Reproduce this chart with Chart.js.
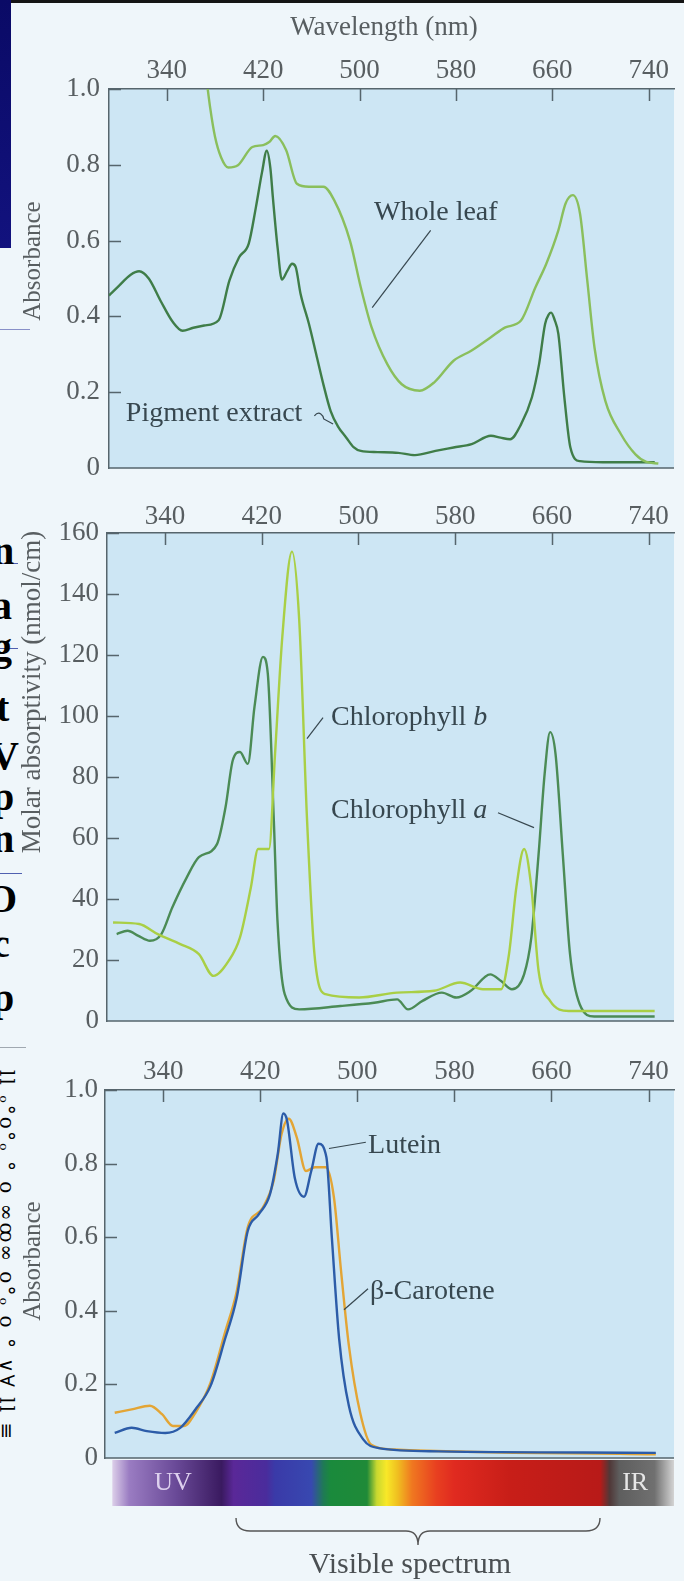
<!DOCTYPE html>
<html><head><meta charset="utf-8">
<script src="https://cdn.jsdelivr.net/npm/chart.js@4.4.1/dist/chart.umd.min.js"></script>
<style>
html,body{margin:0;padding:0;width:684px;height:1581px;overflow:hidden;background:#eff6fa;position:relative;font-family:"Liberation Serif",serif}
canvas{position:absolute;left:0}
#c1{top:0}#c2{top:490px}#c3{top:1035px}
.bl{position:absolute;font:bold 40px "Liberation Serif",serif;color:#000;line-height:40px}
.hl{position:absolute;left:0;height:1px}
</style></head>
<body>
<div style="position:absolute;left:0;top:0;width:684px;height:3px;background:#141414"></div>
<div style="position:absolute;left:0;top:0;width:11px;height:248px;background:linear-gradient(180deg,#0a0a66,#12127e)"></div>
<div class="hl" style="top:329px;width:30px;background:#8890c8"></div>
<div class="hl" style="top:563px;width:18px;background:#5060b0"></div>
<div class="hl" style="top:648px;width:18px;background:#5060b0"></div>
<div class="hl" style="top:873px;width:22px;background:#5060b0"></div>
<div class="hl" style="top:1047px;width:26px;background:#a0a8b0"></div>
<div style="position:absolute;left:0;top:0;width:19px;height:1581px;overflow:hidden">
  <span class="bl" style="left:-8px;top:531px">n</span>
  <span class="bl" style="left:-8px;top:586px">a</span>
  <span class="bl" style="left:-8px;top:627px">g</span>
  <span class="bl" style="left:-4px;top:688px">t</span>
  <span class="bl" style="left:-10px;top:736px">V</span>
  <span class="bl" style="left:-8px;top:777px">p</span>
  <span class="bl" style="left:-8px;top:819px">n</span>
  <span class="bl" style="left:-14px;top:879px">O</span>
  <span class="bl" style="left:-8px;top:924px">c</span>
  <span class="bl" style="left:-8px;top:978px">p</span>
  <div style="position:absolute;left:19px;top:1070px;transform-origin:0 0;transform:rotate(90deg);font:20px 'DejaVu Serif',serif;color:#000;white-space:nowrap;letter-spacing:2px">ll ₒ°o°ₒ ° o ∞ꝏ∞ o°ₒ o ° ∨∀ ll ≡</div>
</div>
<canvas id="c1" width="684" height="490" style="width:684px;height:490px"></canvas>
<canvas id="c2" width="684" height="545" style="width:684px;height:545px"></canvas>
<canvas id="c3" width="684" height="546" style="width:684px;height:546px"></canvas>
<script>
// ---------------- data ----------------
const xTicks = [340, 420, 500, 580, 660, 740];
const xTickLabels = ['340', '420', '500', '580', '660', '740'];
const absTicks = [0, 0.2, 0.4, 0.6, 0.8, 1.0];
const absTickLabels = ['0', '0.2', '0.4', '0.6', '0.8', '1.0'];
const molarTicks = [0, 20, 40, 60, 80, 100, 120, 140, 160];
const molarTickLabels = ['0', '20', '40', '60', '80', '100', '120', '140', '160'];

// Panel 1: whole leaf vs pigment extract
const leafNm  = [372, 376, 380, 385, 391, 399, 411, 420, 425, 430, 439, 448, 458, 470, 479, 492, 501, 510, 523, 535, 550, 562, 578, 593, 609, 621, 634, 646, 655, 665, 671, 677, 683, 689, 695, 704, 717, 729, 738, 748];
const leafAbs = [1.05, 0.95, 0.874, 0.82, 0.793, 0.799, 0.847, 0.852, 0.86, 0.876, 0.839, 0.75, 0.742, 0.742, 0.706, 0.60, 0.477, 0.371, 0.274, 0.221, 0.204, 0.226, 0.283, 0.31, 0.345, 0.371, 0.389, 0.477, 0.539, 0.627, 0.698, 0.72, 0.671, 0.495, 0.318, 0.177, 0.089, 0.036, 0.016, 0.012];
const pigNm  = [292, 300, 310, 317, 325, 335, 345, 353, 362, 371, 383, 392, 400, 408, 414, 419, 423, 426, 428, 432, 435.5, 440, 444, 447, 451, 458, 464, 470, 476, 482, 489, 495, 501, 515, 532, 546, 563, 578, 593, 609, 617, 625, 634, 643, 649, 654, 657, 659, 662, 665, 670, 675, 683, 702, 736, 745];
const pigAbs = [0.455, 0.48, 0.51, 0.519, 0.50, 0.44, 0.385, 0.362, 0.37, 0.376, 0.39, 0.495, 0.556, 0.592, 0.689, 0.78, 0.837, 0.79, 0.715, 0.58, 0.497, 0.52, 0.539, 0.53, 0.46, 0.38, 0.30, 0.22, 0.15, 0.11, 0.08, 0.055, 0.045, 0.042, 0.04, 0.034, 0.045, 0.054, 0.063, 0.085, 0.08, 0.076, 0.115, 0.186, 0.274, 0.38, 0.405, 0.41, 0.39, 0.354, 0.186, 0.054, 0.018, 0.015, 0.015, 0.015];

// Panel 2: chlorophyll a and b (molar absorptivity)
const chlANm  = [300, 309, 318, 327.5, 337, 346, 358, 368, 383, 390, 396, 402, 408.5, 414, 421, 425, 430, 433, 439, 451, 485, 513, 532, 541, 553, 569, 581, 593, 609, 618, 627, 637, 643, 649, 654, 658.5, 663, 669, 675, 683, 695, 745];
const chlAVal = [28.5, 29.6, 27.9, 26.3, 28.5, 37.2, 47.1, 53.7, 58, 70, 85.4, 88.2, 84.3, 103, 119.4, 113.9, 65.7, 32.9, 8.8, 3.8, 4.9, 6, 7.1, 3.8, 6.6, 9.3, 7.7, 9.9, 15.3, 13.1, 10.4, 15.3, 27.4, 54.7, 81, 94.7, 87.6, 54.7, 21.9, 5.5, 1.5, 1.5];
const chlBNm  = [297, 318.6, 334, 352.6, 368, 380, 392.6, 402, 411, 417, 426, 431, 437, 445, 451, 457.5, 463.6, 472.7, 500.6, 532, 562.6, 584, 603, 618, 624.5, 630.6, 637, 643, 649, 658.5, 674, 745];
const chlBVal = [32.3, 31.8, 28.5, 25.2, 21.9, 14.8, 19.7, 27.4, 43.8, 56.4, 56.4, 87.6, 125.9, 153.9, 131.4, 65.7, 21.9, 8.8, 7.7, 9.3, 9.9, 12.6, 10.4, 10.4, 21.9, 43.8, 56.4, 43.8, 16.4, 6.6, 3.3, 3.3];

// Panel 3: lutein and beta-carotene
const lutNm  = [300, 314, 326.5, 341.7, 354, 366.5, 379, 391, 400.5, 409.6, 418.7, 428, 434.4, 439, 442, 448.5, 456, 462, 468, 474.5, 479, 485, 493, 505, 517.7, 567, 746];
const lutAbs = [0.068, 0.082, 0.073, 0.068, 0.082, 0.132, 0.196, 0.324, 0.434, 0.616, 0.662, 0.717, 0.826, 0.936, 0.918, 0.76, 0.71, 0.78, 0.854, 0.817, 0.598, 0.324, 0.142, 0.05, 0.027, 0.018, 0.014];
const carNm  = [300, 314, 329, 339, 348, 357, 366.5, 379, 391, 400.5, 409.6, 422, 431, 437.6, 443.5, 450, 457.6, 465, 474, 480.7, 486.6, 493, 502.3, 511.5, 530, 746];
const carAbs = [0.123, 0.132, 0.142, 0.119, 0.087, 0.087, 0.123, 0.205, 0.342, 0.452, 0.626, 0.68, 0.753, 0.881, 0.922, 0.872, 0.78, 0.79, 0.79, 0.708, 0.507, 0.306, 0.123, 0.036, 0.023, 0.01];

// Spectrum bar colour stops (wavelength -> colour)
const specNm    = [298, 312, 350, 388, 398, 425, 432, 462, 472, 478, 508, 516, 524, 533, 545, 565, 580, 625, 700, 708, 716, 745, 761];
const specColor = ['#dccfe9', '#9a7cc2', '#6a4a98', '#3a1a60', '#5a2898', '#4a2c9c', '#3a3aa8', '#3848b0', '#1f7a55', '#1a8a3c', '#1f8a38', '#c8d830', '#f8e828', '#f0c020', '#f07820', '#e84020', '#e02a20', '#c81e18', '#b81a18', '#503838', '#5e5e5e', '#707070', '#d4d4d4'];

// ---------------- styling ----------------
const FONT = "'Liberation Serif', 'DejaVu Serif', serif";
const AXIS = '#56656c';
const TXT = '#585e61';
const LABEL = '#37474f';
const PLOT_BG = '#cde6f4';
const TICK_FONT = 27;
const ANN_FONT = 28;
Chart.defaults.font.family = FONT;
Chart.defaults.color = TXT;

const pts = (xs, ys) => xs.map((x, i) => ({x: x, y: ys[i]}));
const line = (label, xs, ys, color) => ({label, data: pts(xs, ys), borderColor: color, borderWidth: 2.4, pointRadius: 0, fill: false, cubicInterpolationMode: 'monotone'});

function labelText(ctx, parts, x, y) {
  let cx = x;
  parts.forEach(p => {
    ctx.font = (p.italic ? 'italic ' : '') + ANN_FONT + 'px ' + FONT;
    ctx.fillText(p.t, cx, y);
    cx += ctx.measureText(p.t).width;
  });
}
function drawAnnotations(chart, list) {
  const {ctx, scales: {x, y}} = chart;
  ctx.save();
  ctx.fillStyle = LABEL; ctx.strokeStyle = LABEL; ctx.lineWidth = 1.2;
  ctx.textBaseline = 'middle'; ctx.textAlign = 'left';
  list.forEach(a => {
    labelText(ctx, a.parts, x.getPixelForValue(a.nm), y.getPixelForValue(a.v));
    if (a.leader) {
      ctx.beginPath();
      ctx.moveTo(x.getPixelForValue(a.leader[0][0]), y.getPixelForValue(a.leader[0][1]));
      ctx.lineTo(x.getPixelForValue(a.leader[1][0]), y.getPixelForValue(a.leader[1][1]));
      ctx.stroke();
    }
    if (a.tilde) {
      const x0 = x.getPixelForValue(a.tilde[0][0]), y0 = y.getPixelForValue(a.tilde[0][1]);
      const x1 = x.getPixelForValue(a.tilde[1][0]), y1 = y.getPixelForValue(a.tilde[1][1]);
      ctx.beginPath();
      ctx.moveTo(x0, y0 + 2);
      ctx.bezierCurveTo(x0 + 5, y0 - 4, x0 + 9, y0 + 2, (x0 + x1) / 2, (y0 + y1) / 2);
      ctx.lineTo(x1, y1);
      ctx.stroke();
    }
  });
  ctx.restore();
}
function rotText(ctx, text, cx, cy, size) {
  ctx.save();
  ctx.translate(cx, cy); ctx.rotate(-Math.PI / 2);
  ctx.font = size + 'px ' + FONT; ctx.fillStyle = TXT;
  ctx.textAlign = 'center'; ctx.textBaseline = 'middle';
  ctx.fillText(text, 0, 0);
  ctx.restore();
}

function decoPlugin(extra) {
  return {
    id: 'deco',
    beforeDraw(chart) {
      const {ctx, chartArea: a} = chart;
      ctx.save();
      ctx.fillStyle = PLOT_BG;
      ctx.fillRect(a.left, a.top, a.right - a.left, a.bottom - a.top);
      ctx.restore();
    },
    beforeDatasetsDraw(chart) {
      const {ctx, chartArea: a, scales: {x, y}} = chart;
      ctx.save();
      ctx.strokeStyle = AXIS; ctx.lineWidth = 1.5;
      ctx.beginPath();
      x.ticks.forEach(t => { const px = Math.round(x.getPixelForValue(t.value)) + 0.5; ctx.moveTo(px, a.top); ctx.lineTo(px, a.top + 12); });
      y.ticks.forEach(t => { const py = Math.round(y.getPixelForValue(t.value)) + 0.5; if (t.value === y.min) return; ctx.moveTo(a.left, py); ctx.lineTo(a.left + 12, py); });
      ctx.moveTo(a.left, a.bottom); ctx.lineTo(a.right, a.bottom);
      ctx.stroke();
      ctx.restore();
    },
    afterDraw(chart) { if (extra) extra(chart); }
  };
}

function zeroPad(s) { s.paddingTop = 0; s.paddingBottom = 0; s.paddingLeft = 0; s.paddingRight = 0; }

function makeChart(id, c) {
  return new Chart(document.getElementById(id), {
    type: 'line',
    data: {datasets: c.datasets},
    options: {
      responsive: false, animation: false, devicePixelRatio: 1,
      layout: {padding: {left: 0, top: 0, right: 10, bottom: c.padBottom}},
      plugins: {legend: {display: false}, tooltip: {enabled: false}, title: {display: false}},
      scales: {
        x: {
          type: 'linear', position: 'top', min: 292, max: 761,
          afterBuildTicks: s => { s.ticks = xTicks.map(v => ({value: v})); },
          afterFit: s => { s.height = c.xAxisH; zeroPad(s); },
          grid: {display: false, drawTicks: false},
          border: {display: true, color: AXIS, width: 1.5},
          ticks: {padding: c.xPad, font: {size: TICK_FONT}, color: TXT, maxRotation: 0, autoSkip: false,
                  callback: (v, i) => xTickLabels[i]}
        },
        y: {
          type: 'linear', position: 'left', min: c.yTicks[0], max: c.yTicks[c.yTicks.length - 1],
          afterBuildTicks: s => { s.ticks = c.yTicks.map(v => ({value: v})); },
          afterFit: s => { s.width = c.yAxisW; zeroPad(s); },
          grid: {display: false, drawTicks: false},
          border: {display: true, color: AXIS, width: 1.5},
          ticks: {padding: c.yPad, font: {size: TICK_FONT}, color: TXT, autoSkip: false,
                  callback: (v, i) => c.yLabels[i]}
        }
      }
    },
    plugins: [decoPlugin(c.extra)]
  });
}

// ---------------- panel 1 ----------------
makeChart('c1', {
  datasets: [
    line('Whole leaf', leafNm, leafAbs, '#8abf5c'),
    line('Pigment extract', pigNm, pigAbs, '#3f7d48')
  ],
  xAxisH: 89, padBottom: 22, yAxisW: 109, xPad: 2, yPad: 9,
  yTicks: absTicks, yLabels: absTickLabels,
  extra: chart => {
    const {ctx} = chart;
    ctx.save();
    ctx.font = TICK_FONT + 'px ' + FONT; ctx.fillStyle = TXT; ctx.textAlign = 'center'; ctx.textBaseline = 'middle';
    ctx.fillText('Wavelength (nm)', 384, 28);
    ctx.restore();
    rotText(ctx, 'Absorbance', 33, 261, 25);
    drawAnnotations(chart, [
      {parts: [{t: 'Whole leaf'}], nm: 512, v: 0.675, leader: [[559, 0.627], [510.5, 0.423]]},
      {parts: [{t: 'Pigment extract'}], nm: 306, v: 0.143, tilde: [[462.5, 0.143], [478, 0.116]]}
    ]);
  }
});

// ---------------- panel 2 ----------------
makeChart('c2', {
  datasets: [
    line('Chlorophyll b', chlBNm, chlBVal, '#a9cf45'),
    line('Chlorophyll a', chlANm, chlAVal, '#4b8b55')
  ],
  xAxisH: 43, padBottom: 14, yAxisW: 107, xPad: 0, yPad: 8,
  yTicks: molarTicks, yLabels: molarTickLabels,
  extra: chart => {
    rotText(chart.ctx, 'Molar absorptivity (nmol/cm)', 33, 202, TICK_FONT);
    drawAnnotations(chart, [
      {parts: [{t: 'Chlorophyll '}, {t: 'b', italic: true}], nm: 477.3, v: 99.5, leader: [[470.7, 99.5], [457.4, 92.6]]},
      {parts: [{t: 'Chlorophyll '}, {t: 'a', italic: true}], nm: 477.3, v: 69, leader: [[615.4, 68.3], [645.2, 63.4]]}
    ]);
  }
});

// ---------------- panel 3 ----------------
makeChart('c3', {
  datasets: [
    line('Lutein', lutNm, lutAbs, '#2c5ca8'),
    line('β-Carotene', carNm, carAbs, '#e3a535')
  ],
  xAxisH: 55, padBottom: 123, yAxisW: 105, xPad: 2, yPad: 7,
  yTicks: absTicks, yLabels: absTickLabels,
  extra: chart => {
    const {ctx, chartArea: a, scales: {x}} = chart;
    rotText(ctx, 'Absorbance', 33, 226, 25);
    drawAnnotations(chart, [
      {parts: [{t: 'Lutein'}], nm: 508.8, v: 0.849, leader: [[476.6, 0.841], [507, 0.858]]},
      {parts: [{t: 'β-Carotene'}], nm: 510.4, v: 0.452, leader: [[489, 0.403], [508.8, 0.46]]}
    ]);
    // spectrum bar
    const top = a.bottom + 2, h = 46;
    const x0 = x.getPixelForValue(specNm[0]), x1 = x.getPixelForValue(specNm[specNm.length - 1]);
    const g = ctx.createLinearGradient(x0, 0, x1, 0);
    specNm.forEach((nm, i) => g.addColorStop((x.getPixelForValue(nm) - x0) / (x1 - x0), specColor[i]));
    ctx.save();
    ctx.fillStyle = g;
    ctx.fillRect(x0, top, x1 - x0, h);
    ctx.font = '26px ' + FONT; ctx.textAlign = 'center'; ctx.textBaseline = 'middle';
    ctx.fillStyle = '#ddd0ee'; ctx.fillText('UV', x.getPixelForValue(348), top + h / 2);
    ctx.fillStyle = '#e6e6e6'; ctx.fillText('IR', x.getPixelForValue(729), top + h / 2);
    // brace under the visible range
    const bl = x.getPixelForValue(400), br = x.getPixelForValue(700), bc = x.getPixelForValue(550);
    const by = top + h + 12;
    ctx.strokeStyle = '#555'; ctx.lineWidth = 1.4;
    ctx.beginPath();
    ctx.moveTo(bl, by);
    ctx.quadraticCurveTo(bl, by + 13, bl + 14, by + 13);
    ctx.lineTo(bc - 12, by + 13);
    ctx.quadraticCurveTo(bc, by + 13, bc, by + 27);
    ctx.quadraticCurveTo(bc, by + 13, bc + 12, by + 13);
    ctx.lineTo(br - 14, by + 13);
    ctx.quadraticCurveTo(br, by + 13, br, by);
    ctx.stroke();
    ctx.font = '30px ' + FONT; ctx.fillStyle = '#4a4f52';
    ctx.fillText('Visible spectrum', bc - 8, by + 47);
    ctx.restore();
  }
});
</script>
</body></html>
